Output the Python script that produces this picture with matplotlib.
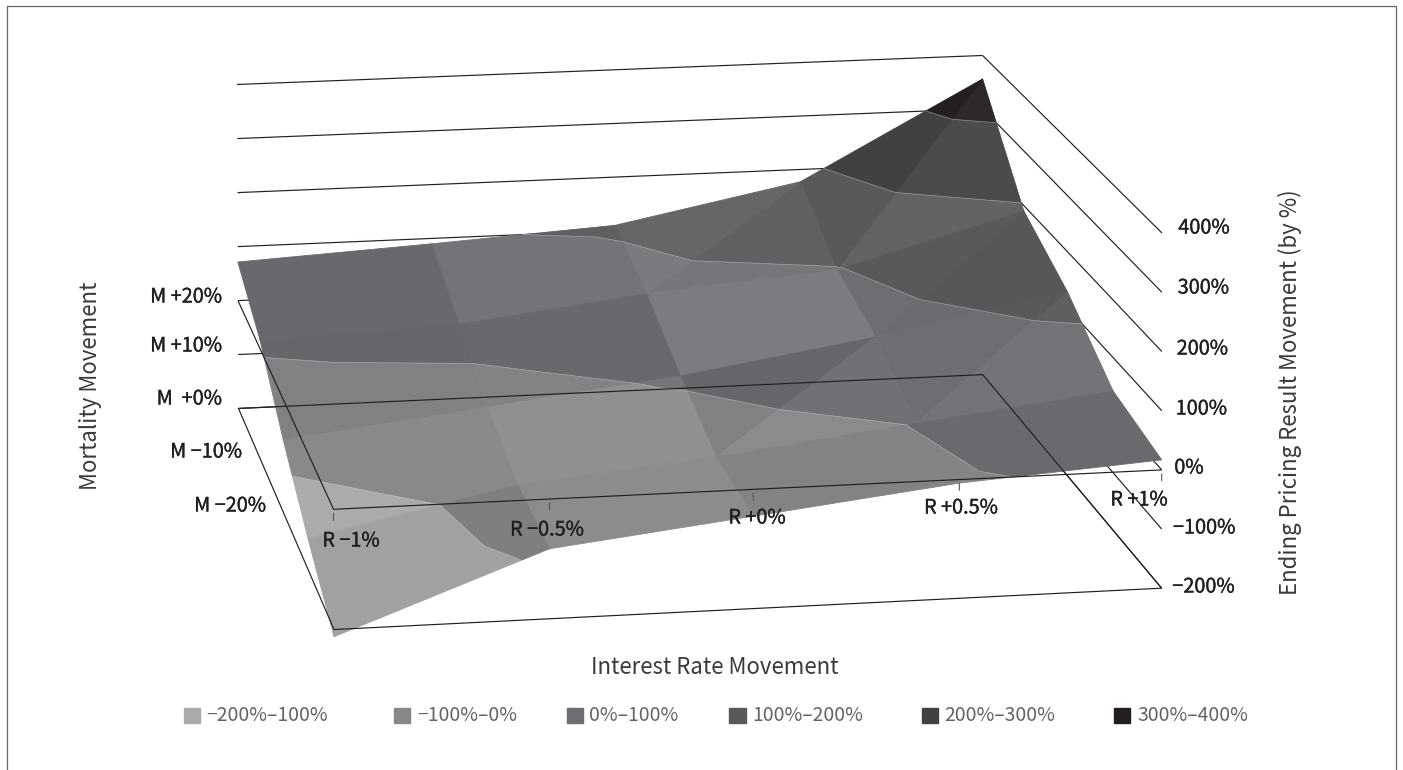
import numpy as np
import matplotlib
matplotlib.use('Agg')
import matplotlib.pyplot as plt
import matplotlib.patheffects as pe
from matplotlib.colors import to_rgb
from matplotlib.lines import Line2D
from matplotlib.patches import Rectangle
from mpl_toolkits.mplot3d.art3d import Poly3DCollection, Line3DCollection

W, H = 1403, 770
plt.rcParams['font.family'] = ['Noto Sans CJK KR', 'DejaVu Sans']

# chart data, rows from M +20% (back) to M -20% (front)
rate_labels = ['R −1%', 'R −0.5%', 'R +0%', 'R +0.5%', 'R +1%']
rate_pos = [0, 1.03, 2.01, 3.01, 4]
mort_labels = ['M +20%', 'M +10%', 'M  +0%', 'M −10%', 'M −20%']
mort_pos = [20, 10, 0, -10, -20]
result = [
    [71.5, 90, 110, 177, 356],
    [16, 28, 68.7, 97, 190],
    [-72, -30.6, 9.4, 63, 128.6],
    [-147, -72, -40, 2, 42],
    [-212, -83, -45, -6, 17],
]
z_ticks = [400, 300, 200, 100, 0, -100, -200]
z_tick_labels = ['400%', '300%', '200%', '100%', '0%', '−100%', '−200%']
band_edges = [-1000, -100, 0, 100, 200, 300, 1000]
band_labels = ['−200%–100%', '−100%–0%', '0%–100%', '100%–200%', '200%–300%', '300%–400%']
band_colors = ['#a9aaac', '#87888a', '#6d6e71', '#58595b', '#414042', '#231f20']

# brightness offset of each facet (0-255), same layout as the quads of result
light_upper = [[-5, 6, 13, 0], [-7, -5, 14, 0], [1, 8, -7, 0], [-9, 4, -5, -4]]
light_lower = [[-5, 6, 8, 10], [-7, -5, 14, -2], [1, 8, 3, 6], [-9, 4, -5, -4]]
# quads split along the other diagonal
flipped_quads = {(1, 0), (2, 0), (3, 0)}

# where the box corners sit on the page, used to fit the camera
box_calib = [
    ((0, 20, 400), (237.7, 85)), ((0, 20, -200), (237.7, 406)),
    ((4, 20, 400), (982.7, 55)), ((4, 20, -200), (982.7, 377)),
    ((0, -20, 0), (331.7, 511.7)), ((0, -20, -200), (336, 629.3)),
    ((4, -20, 0), (1161.7, 469.3)), ((4, -20, -200), (1161.7, 587.3)),
    ((4, -20, 400), (1161.7, 232.3)),
]

fig = plt.figure(figsize=(W / 100, H / 100), dpi=100)
ax = fig.add_axes([0, (H - W) / 2 / H, 1, W / H], projection='3d')
ax.set_axis_off()
ax.computed_zorder = False
ax.apply_aspect()


def fit_camera():
    rows, rhs = [], []
    to_view = ax.transData.inverted()
    for (x, y, z), (px, py) in box_calib:
        u, v = to_view.transform((px, H - py))
        rows.append([x, y, z, 1, 0, 0, 0, 0, -u * x, -u * y, -u * z])
        rows.append([0, 0, 0, 0, x, y, z, 1, -v * x, -v * y, -v * z])
        rhs += [u, v]
    p = np.linalg.lstsq(np.array(rows), np.array(rhs), rcond=None)[0]
    return np.array([p[:4], p[4:8], [0, 0, 1e-3, 0], [p[8], p[9], p[10], 1]])


def clip_band(tri, lo, hi):
    # cut one triangle to the slab lo <= z <= hi
    poly = [np.array(q, dtype=float) for q in tri]
    for level, sign in ((lo, 1), (hi, -1)):
        out = []
        for i, a in enumerate(poly):
            b = poly[(i + 1) % len(poly)]
            da, db = sign * (a[2] - level), sign * (b[2] - level)
            if da >= 0:
                out.append(a)
            if da * db < 0:
                out.append(a + (b - a) * da / (da - db))
        poly = out
        if not poly:
            break
    return poly


def contour_segment(tri, level):
    pts = []
    for k in range(3):
        a, b = np.array(tri[k], dtype=float), np.array(tri[(k + 1) % 3], dtype=float)
        if (a[2] - level) * (b[2] - level) < 0:
            pts.append(a + (b - a) * (level - a[2]) / (b[2] - a[2]))
    return pts if len(pts) == 2 else None


polys, faces, seams = [], [], []
for i in range(len(mort_pos) - 1):
    for j in range(len(rate_pos) - 1):
        bl = (rate_pos[j], mort_pos[i + 1], result[i + 1][j])
        br = (rate_pos[j + 1], mort_pos[i + 1], result[i + 1][j + 1])
        tl = (rate_pos[j], mort_pos[i], result[i][j])
        tr = (rate_pos[j + 1], mort_pos[i], result[i][j + 1])
        if (i, j) in flipped_quads:
            tris = ((tl, br, tr), (tl, bl, br))
        else:
            tris = ((bl, tr, tl), (bl, br, tr))
        for tri, delta in zip(tris, (light_upper[i][j], light_lower[i][j])):
            for k, col in enumerate(band_colors):
                p = clip_band(tri, band_edges[k], band_edges[k + 1])
                if len(p) >= 3:
                    polys.append(p)
                    faces.append(np.clip(np.array(to_rgb(col)) + delta / 255, 0, 1))
            for level in band_edges[1:-1]:
                seg = contour_segment(tri, level)
                if seg:
                    seams.append(seg)

ax.add_collection3d(Poly3DCollection(polys, facecolors=faces, edgecolors=faces,
                                     linewidths=0.6, zorder=2), autolim=False)
ax.add_collection3d(Line3DCollection(seams, colors='#c4c5c7', linewidths=0.45, alpha=0.6, zorder=2.5),
                    autolim=False)

r0, r1 = rate_pos[0], rate_pos[-1]
back, front = mort_pos[0], mort_pos[-1]


def pts(rs, ms, zs):
    return list(zip(rs, ms, zs))


# walls go behind the surface
wall = []
for z in z_ticks:
    wall.append(pts([r0, r1], [back, back], [z, z]))
    wall.append(pts([r1, r1], [back, front], [z, z]))
ax.add_collection3d(Line3DCollection(wall, colors='#231f20', linewidths=0.85, zorder=1), autolim=False)

# floor and the 0% axis are drawn over it
top = [pts([r0, r1, r1, r0, r0], [back, back, front, front, back], [-200] * 5),
       pts([r0, r0, r1], [back, front, front], [0, 0, 0])]
ax.add_collection3d(Line3DCollection(top, colors='#231f20', linewidths=0.85, zorder=3), autolim=False)
ticks = [pts([r, r], [front, front], [-6, -19]) for r in rate_pos]
ax.add_collection3d(Line3DCollection(ticks, colors='#555555', linewidths=0.8, zorder=3), autolim=False)

ax.get_proj = lambda M=fit_camera(): M


def page_text(x, y, s, **kw):
    kw.setdefault('va', 'center')
    kw.setdefault('color', '#231f20')
    return fig.text(x / W, 1 - y / H, s, **kw)


def tick_text(x, y, s, **kw):
    t = page_text(x, y, s, fontsize=14.3, **kw)
    t.set_path_effects([pe.withStroke(linewidth=0.25, foreground='#231f20')])


for s, x, y in zip(z_tick_labels, [1178.3, 1177.7, 1176.7, 1175.7, 1174.3, 1173, 1172.3],
                   [228, 288, 349, 409, 468, 528, 587]):
    tick_text(x, y, s)
for s, x, y in zip(mort_labels, [222, 222, 222, 242, 266], [297, 346, 399, 452, 506]):
    tick_text(x, y, s, ha='right')
for s, x, y in zip(rate_labels, [351, 547, 757, 961, 1139], [541, 530, 518, 508, 500]):
    tick_text(x, y, s, ha='center')

title_color = '#3a3a3c'
page_text(715, 667, 'Interest Rate Movement', ha='center', fontsize=16, color=title_color)
page_text(90, 386, 'Mortality Movement', ha='center', rotation=90, fontsize=16, color=title_color)
page_text(1290, 392, 'Ending Pricing Result Movement (by %)', ha='center', rotation=90,
          fontsize=16, color=title_color)

legend_swatch_x = [184, 394, 567, 729.5, 921.5, 1114]
legend_text_x = [206, 417, 589, 752.5, 944, 1137]
for s, c, sx, tx in zip(band_labels, band_colors, legend_swatch_x, legend_text_x):
    fig.add_artist(Rectangle((sx / W, 1 - 723 / H), 16 / W, 15 / H, color=c,
                             transform=fig.transFigure))
    page_text(tx, 715.5, s, fontsize=13.9, color='#626365')

# page border, open at the bottom
fig.add_artist(Line2D([7 / W, 7 / W, 1396 / W, 1396 / W], [0, 1 - 5.5 / H, 1 - 5.5 / H, 0],
                      color='#666666', lw=0.9, transform=fig.transFigure))

fig.savefig('out.png', dpi=100)
